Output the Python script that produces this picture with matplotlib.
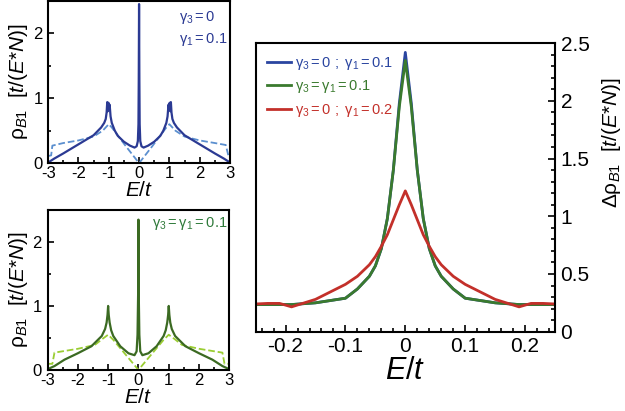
import matplotlib
matplotlib.use("Agg")
import matplotlib.pyplot as plt
from matplotlib.ticker import MultipleLocator

plt.rcParams['font.family'] = ['Liberation Sans', 'DejaVu Sans']
plt.rcParams['mathtext.fontset'] = 'custom'
plt.rcParams['mathtext.rm'] = 'Liberation Sans'
plt.rcParams['mathtext.it'] = 'Liberation Sans:italic'
plt.rcParams['mathtext.bf'] = 'Liberation Sans:bold'
plt.rcParams['mathtext.default'] = 'regular'
plt.rcParams['axes.unicode_minus'] = False

# top-left panel: gamma3 = 0, gamma1 = 0.1
E_top = [-3, -2.8, -2.5, -2.0, -1.5, -1.25, -1.15, -1.1, -1.07, -1.05, -1.03, -1.01, -0.99, -0.97,
         -0.94, -0.9, -0.8, -0.7, -0.5, -0.3, -0.15, -0.08, -0.04, -0.02, -0.01, 0,
         0.01, 0.02, 0.04, 0.08, 0.15, 0.3, 0.5, 0.7, 0.8, 0.9, 0.94, 0.97, 0.99, 1.01,
         1.03, 1.05, 1.07, 1.1, 1.15, 1.25, 1.5, 2.0, 2.5, 2.8, 3]
rho_top = [0.01, 0.07, 0.15, 0.29, 0.43, 0.55, 0.62, 0.68, 0.78, 0.94, 0.80, 0.93, 0.82, 0.90,
           0.72, 0.62, 0.50, 0.42, 0.33, 0.27, 0.24, 0.26, 0.34, 0.60, 1.30, 2.45,
           1.30, 0.60, 0.34, 0.26, 0.24, 0.27, 0.33, 0.42, 0.50, 0.62, 0.72, 0.90, 0.82, 0.93,
           0.80, 0.94, 0.78, 0.68, 0.62, 0.55, 0.43, 0.29, 0.15, 0.07, 0.01]
E_top0 = [-3, -2.9, -2.86, -2.5, -2.0, -1.5, -1.2, -1.0, -0.9, -0.45, 0,
          0.45, 0.9, 1.0, 1.2, 1.5, 2.0, 2.5, 2.86, 2.95, 3]
rho_top0 = [0.11, 0.12, 0.27, 0.31, 0.35, 0.41, 0.50, 0.60, 0.55, 0.27, 0.0,
            0.27, 0.55, 0.60, 0.50, 0.41, 0.35, 0.31, 0.28, 0.11, 0.11]

# bottom-left panel: gamma3 = gamma1 = 0.1
E_bot = [-3, -2.77, -2.44, -2.0, -1.55, -1.21, -1.1, -1.05, -1.02, -1.0, -0.98, -0.95, -0.9,
         -0.83, -0.6, -0.33, -0.13, -0.06, -0.03, -0.01, 0,
         0.01, 0.03, 0.06, 0.13, 0.33, 0.6, 0.83, 0.9, 0.95, 0.98, 1.0, 1.02, 1.05, 1.1,
         1.21, 1.55, 2.0, 2.44, 2.77, 3]
rho_bot = [0.01, 0.06, 0.16, 0.26, 0.37, 0.53, 0.64, 0.74, 0.86, 1.0, 0.86, 0.74, 0.62,
           0.53, 0.37, 0.26, 0.23, 0.29, 0.55, 1.20, 2.35,
           1.20, 0.55, 0.29, 0.23, 0.26, 0.37, 0.53, 0.62, 0.74, 0.86, 1.0, 0.86, 0.74, 0.64,
           0.53, 0.37, 0.26, 0.16, 0.06, 0.01]
E_bot0 = [-3, -2.84, -2.77, -2.0, -1.44, -1.2, -1.0, -0.83, 0, 0.83, 1.0, 1.2, 1.44, 2.0, 2.77, 2.84, 3]
rho_bot0 = [0.095, 0.095, 0.27, 0.33, 0.39, 0.48, 0.55, 0.47, 0.0, 0.47, 0.55, 0.48, 0.39, 0.33, 0.27, 0.095, 0.095]

# right panel: delta rho near E = 0
E_zoom = [-0.25, -0.23, -0.21, -0.19, -0.15, -0.1, -0.08, -0.06, -0.05, -0.04, -0.03, -0.02, -0.01, 0,
          0.01, 0.02, 0.03, 0.04, 0.05, 0.06, 0.08, 0.1, 0.15, 0.19, 0.21, 0.23, 0.25]
d_blue = [0.235, 0.235, 0.235, 0.235, 0.25, 0.29, 0.37, 0.48, 0.57, 0.72, 0.98, 1.40, 1.98, 2.42,
          1.98, 1.40, 0.98, 0.72, 0.57, 0.48, 0.37, 0.29, 0.25, 0.235, 0.235, 0.235, 0.235]
d_green = [0.235, 0.235, 0.235, 0.235, 0.25, 0.29, 0.37, 0.48, 0.57, 0.72, 0.98, 1.40, 1.95, 2.35,
           1.95, 1.40, 0.98, 0.72, 0.57, 0.48, 0.37, 0.29, 0.25, 0.235, 0.235, 0.235, 0.235]
d_red = [0.24, 0.245, 0.245, 0.215, 0.28, 0.41, 0.48, 0.58, 0.65, 0.74, 0.84, 0.97, 1.10, 1.22,
         1.10, 0.97, 0.84, 0.74, 0.65, 0.58, 0.48, 0.41, 0.28, 0.215, 0.245, 0.245, 0.24]
labels = [r'$\gamma_3 = 0\ ;\ \gamma_1 = 0.1$', r'$\gamma_3 = \gamma_1 = 0.1$', r'$\gamma_3 = 0\ ;\ \gamma_1 = 0.2$']

blue_dark = '#2b3a93'
blue_light = '#5b8fcf'
green_dark = '#3b6a22'
green_light = '#9acd32'

fig = plt.figure(figsize=(6.25, 4.11), dpi=100)
ax1 = fig.add_axes([0.077, 0.603, 0.291, 0.395])
ax2 = fig.add_axes([0.076, 0.100, 0.291, 0.389])
ax3 = fig.add_axes([0.409, 0.193, 0.479, 0.702])

ylab = r'$\rho_{\mathit{B1}}$  $\mathit{[t/(E{*}N)]}$'
for ax in (ax1, ax2):
    ax.set_xlim(-3, 3)
    ax.set_ylim(0, 2.5)
    ax.xaxis.set_major_locator(MultipleLocator(1))
    ax.xaxis.set_minor_locator(MultipleLocator(0.5))
    ax.yaxis.set_major_locator(MultipleLocator(1))
    ax.yaxis.set_minor_locator(MultipleLocator(0.5))
    ax.tick_params(which='both', direction='in', labelsize=12, width=1.2)
    ax.tick_params(axis='x', pad=2)
    ax.tick_params(axis='y', pad=4)
    ax.tick_params(which='major', length=4)
    ax.tick_params(which='minor', length=2.5)
    ax.set_xlabel(r'$\mathit{E/t}$', fontsize=15, labelpad=0)
    ax.set_ylabel(ylab, fontsize=15, labelpad=2)
    for s in ax.spines.values():
        s.set_linewidth(1.5)

ax1.plot(E_top0, rho_top0, '--', color=blue_light, lw=1.3)
ax1.plot(E_top, rho_top, '-', color=blue_dark, lw=1.6)
ax1.text(1.31, 2.25, r'$\gamma_3 = 0$', color=blue_dark, fontsize=10.5, va='center')
ax1.text(1.31, 1.9, r'$\gamma_1 = 0.1$', color=blue_dark, fontsize=10.5, va='center')

ax2.plot(E_bot0, rho_bot0, '--', color=green_light, lw=1.3)
ax2.plot(E_bot, rho_bot, '-', color=green_dark, lw=1.6)
ax2.text(2.95, 2.29, r'$\gamma_3 = \gamma_1 = 0.1$', color='#2f7a3a', fontsize=10.5,
         va='center', ha='right')

ax3.plot(E_zoom, d_blue, color='#2a45a0', lw=2, label=labels[0])
ax3.plot(E_zoom, d_green, color='#3a7a2e', lw=2, label=labels[1])
ax3.plot(E_zoom, d_red, color='#c3302a', lw=2, label=labels[2])
ax3.set_xlim(-0.25, 0.25)
ax3.set_ylim(0, 2.5)
ax3.xaxis.set_major_locator(MultipleLocator(0.1))
ax3.xaxis.set_minor_locator(MultipleLocator(0.02))
ax3.yaxis.set_major_locator(MultipleLocator(0.5))
ax3.yaxis.set_minor_locator(MultipleLocator(0.1))
ax3.yaxis.tick_right()
ax3.tick_params(which='both', direction='in', labelsize=15, width=1.2)
ax3.tick_params(which='major', length=5, pad=4)
ax3.tick_params(which='minor', length=3)
ax3.xaxis.set_major_formatter(plt.FuncFormatter(lambda v, p: '0' if abs(v) < 1e-9 else '%.1f' % v))
ax3.yaxis.set_major_formatter(plt.FuncFormatter(lambda v, p: '0' if abs(v) < 1e-9 else '%g' % v))
ax3.set_xlabel(r'$\mathit{E/t}$', fontsize=22, labelpad=0)
ax3.yaxis.set_label_position('right')
ax3.set_ylabel(r'$\Delta\rho_{\mathit{B1}}$  $\mathit{[t/(E{*}N)]}$', fontsize=15, rotation=90)
ax3.yaxis.set_label_coords(1.15, 0.654)
for s in ax3.spines.values():
    s.set_linewidth(1.5)

leg = ax3.legend(loc='upper left', frameon=False, fontsize=10.5, handlelength=1.6,
                 handletextpad=0.3, labelspacing=0.45, borderaxespad=0.4,
                 labelcolor='linecolor')

fig.savefig('out.png', dpi=100)
